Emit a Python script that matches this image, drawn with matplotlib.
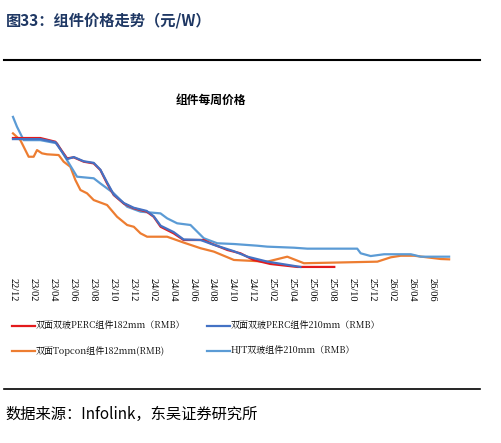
import matplotlib
matplotlib.use("Agg")
import matplotlib.pyplot as plt
from matplotlib.lines import Line2D

plt.rcParams["font.family"] = ["Noto Sans CJK SC", "DejaVu Sans"]

# months since 2022-12, price in CNY/W
perc182_m = [0, 2.74, 4.25, 5.42, 6.09, 7.09, 8.09, 8.76, 9.43, 10.1, 11.1, 12.1, 13.4, 14.1,
             14.8, 16.1, 17.1, 19.1, 19.8, 21.5, 22.8, 24.1, 25.8, 28.5, 32.2]
perc182_p = [1.90, 1.90, 1.865, 1.708, 1.717, 1.676, 1.66, 1.597, 1.47, 1.36, 1.28, 1.235, 1.203,
             1.155, 1.06, 0.998, 0.935, 0.935, 0.904, 0.84, 0.809, 0.746, 0.708, 0.68, 0.68]

perc210_m = [0, 2.74, 4.25, 5.42, 6.09, 7.09, 8.09, 8.76, 9.43, 10.1, 11.1, 12.1, 13.4, 14.1,
             14.8, 16.1, 17.1, 18.8, 20.1, 22.1, 23.5, 25.5, 28.8]
perc210_p = [1.89, 1.89, 1.86, 1.70, 1.72, 1.68, 1.665, 1.60, 1.48, 1.365, 1.285, 1.24, 1.21,
             1.16, 1.07, 1.01, 0.94, 0.935, 0.89, 0.83, 0.777, 0.73, 0.68]

topcon_m = [0, 0.74, 1.57, 2.07, 2.41, 2.91, 3.41, 4.58, 5.08, 5.75, 6.25, 6.76, 7.42, 8.09,
            9.43, 10.43, 11.44, 12.11, 12.78, 13.44, 15.45, 17.12, 18.8, 20.13, 22.14, 25.48,
            27.49, 29.16, 32.17, 36.52, 37.86, 38.86, 40.2, 42.88, 43.71]
topcon_p = [1.944, 1.88, 1.723, 1.723, 1.786, 1.755, 1.746, 1.739, 1.676, 1.628, 1.503, 1.408,
            1.377, 1.313, 1.266, 1.155, 1.077, 1.06, 0.998, 0.966, 0.966, 0.91, 0.857, 0.825,
            0.746, 0.73, 0.777, 0.715, 0.721, 0.73, 0.771, 0.786, 0.786, 0.755, 0.752]

hjt_m = [0, 0.4, 1.07, 2.74, 4.41, 5.42, 6.42, 8.09, 8.76, 10.1, 11.44, 12.78, 14.78, 15.45,
         16.45, 17.79, 19.13, 20.47, 22.14, 24.48, 25.48, 28.16, 29.5, 34.5, 34.85, 35.85,
         37.19, 39.87, 40.87, 43.71]
hjt_p = [2.10, 2.007, 1.88, 1.88, 1.85, 1.69, 1.534, 1.519, 1.47, 1.377, 1.25, 1.203, 1.187,
         1.14, 1.093, 1.077, 0.951, 0.904, 0.897, 0.881, 0.872, 0.862, 0.853, 0.853, 0.809,
         0.783, 0.80, 0.80, 0.777, 0.777]

tick_labels = ["22/12", "23/02", "23/04", "23/06", "23/08", "23/10", "23/12", "24/02", "24/04",
               "24/06", "24/08", "24/10", "24/12", "25/02", "25/04", "25/06", "25/08", "25/10",
               "25/12", "26/02", "26/04", "26/06"]

series = [
    ("双面双玻PERC组件182mm（RMB）", perc182_m, perc182_p, "#e31a1c"),
    ("双面双玻PERC组件210mm（RMB）", perc210_m, perc210_p, "#4472c4"),
    ("双面Topcon组件182mm(RMB)", topcon_m, topcon_p, "#ed7d31"),
    ("HJT双玻组件210mm（RMB）", hjt_m, hjt_p, "#5b9bd5"),
]

W, H = 502, 443
fig = plt.figure(figsize=(W / 100, H / 100), dpi=100)
ax = fig.add_axes([8 / W, 1 - 270 / H, 447 / W, 155 / H])

for idx in [2, 3, 0, 1]:
    label, m, p, c = series[idx]
    ax.plot(m, p, color=c, linewidth=1.6)

ax.set_xlim(-0.5, 44.3)
ax.set_ylim(0.651, 2.118)
ax.set_xticks(range(0, 43, 2))
ax.set_xticklabels(tick_labels, rotation=270, fontsize=7.5, family=["Liberation Serif"])
ax.tick_params(axis="x", length=0, pad=6)
ax.set_yticks([])
for s in ax.spines.values():
    s.set_visible(False)

fig.text(0.42, 1 - 100 / H, "组件每周价格", ha="center", va="center", fontsize=8.5, fontweight="bold")

# header
fig.text(6 / W, 1 - 20 / H, "图33：组件价格走势（元/W）", ha="left", va="center",
         fontsize=11, fontweight="bold", color="#1f3864")
fig.add_artist(Line2D([4 / W, 480 / W], [1 - 60 / H] * 2, color="black", linewidth=1.5))
fig.add_artist(Line2D([4 / W, 480 / W], [1 - 389 / H] * 2, color="black", linewidth=1.2))

# legend
pos = [(12, 326), (207, 326), (12, 351), (207, 351)]
for (label, m, p, c), (px, py) in zip(series, pos):
    fig.add_artist(Line2D([px / W, (px + 23) / W], [1 - py / H] * 2, color=c, linewidth=1.6))
    fig.text((px + 24) / W, 1 - py / H, label, ha="left", va="center", fontsize=6.5,
             family=["Noto Serif CJK SC", "Liberation Serif", "Noto Sans CJK SC"])

fig.text(5 / W, 1 - 414 / H, "数据来源：Infolink，东吴证券研究所", ha="left", va="center",
         fontsize=11)

fig.savefig("out.png", dpi=100)
